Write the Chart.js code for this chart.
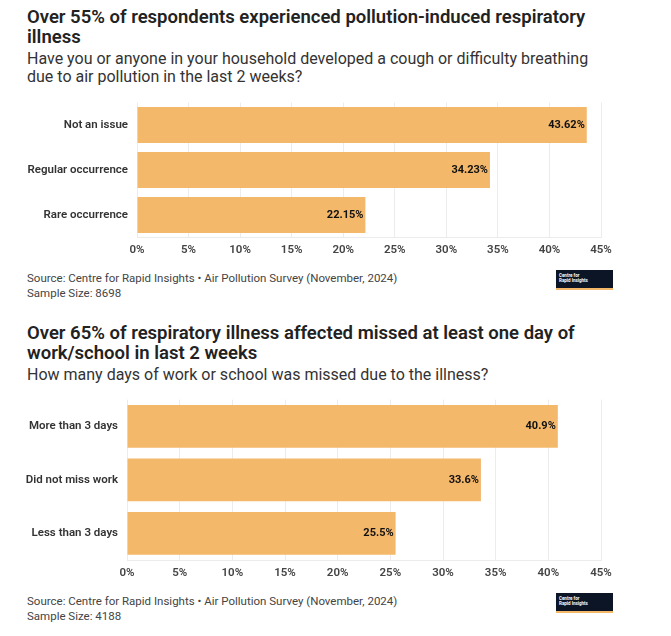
<!DOCTYPE html>
<html>
<head>
<meta charset="utf-8">
<script src="https://cdn.jsdelivr.net/npm/chart.js@4"></script>
<style>
  body { margin: 0; background: #fff; font-family: Roboto, 'Open Sans', sans-serif; }
  #page { position: relative; width: 671px; height: 636px; overflow: hidden; }
  .title { position: absolute; left: 27px; width: 585px; font-size: 18.5px; font-weight: 600; line-height: 20px; color: #222; }
  .subtitle { position: absolute; left: 27px; width: 575px; font-size: 16px; line-height: 18px; color: #333; }
  .source { position: absolute; left: 27px; font-size: 11.5px; line-height: 15px; color: #444; }
  .logo { position: absolute; left: 556px; width: 57px; height: 20px; background: #0b1526; border-bottom: 2px solid #f4b86b; color: #fff; font-size: 4.5px; line-height: 5px; font-weight: 700; padding: 3px 0 0 3px; box-sizing: border-box; }
  .wrap { position: absolute; left: 0; }
</style>
</head>
<body>
<div id="page">
  <div class="title" style="top:7px">Over 55% of respondents experienced pollution-induced respiratory illness</div>
  <div class="subtitle" style="top:50px">Have you or anyone in your household developed a cough or difficulty breathing due to air pollution in the last 2 weeks?</div>
  <div class="wrap" style="top:97px; width:640px; height:165px"><canvas id="chart1"></canvas></div>
  <div class="source" style="top:271px">Source: Centre for Rapid Insights • Air Pollution Survey (November, 2024)<br>Sample Size: 8698</div>
  <div class="logo" style="top:270px">Centre for<br>Rapid Insights</div>

  <div class="title" style="top:323px">Over 65% of respiratory illness affected missed at least one day of work/school in last 2 weeks</div>
  <div class="subtitle" style="top:366px">How many days of work or school was missed due to the illness?</div>
  <div class="wrap" style="top:395px; width:640px; height:190px"><canvas id="chart2"></canvas></div>
  <div class="source" style="top:594px">Source: Centre for Rapid Insights • Air Pollution Survey (November, 2024)<br>Sample Size: 4188</div>
  <div class="logo" style="top:593px">Centre for<br>Rapid Insights</div>
</div>

<script>
// dados
var categorias1 = ['Not an issue', 'Regular occurrence', 'Rare occurrence'];
var valores1 = [43.62, 34.23, 22.15];
var rotulos1 = ['43.62%', '34.23%', '22.15%'];

var categorias2 = ['More than 3 days', 'Did not miss work', 'Less than 3 days'];
var valores2 = [40.9, 33.6, 25.5];
var rotulos2 = ['40.9%', '33.6%', '25.5%'];

var ticksX = [0, 5, 10, 15, 20, 25, 30, 35, 40, 45];

var corBarra = '#f4b86b';
var fonte = "Roboto, 'Open Sans', sans-serif";

// rótulos no fim das barras
var pluginRotulos = {
    id: 'rotulos',
    afterDatasetsDraw: function (chart) {
        var ctx = chart.ctx;
        var textos = chart.options.plugins.rotulos.textos;
        var meta = chart.getDatasetMeta(0);
        ctx.save();
        ctx.font = '700 11px ' + fonte;
        ctx.fillStyle = '#111';
        ctx.textAlign = 'right';
        ctx.textBaseline = 'middle';
        meta.data.forEach(function (bar, i) {
            ctx.fillText(textos[i], bar.x - 2, bar.y);
        });
        ctx.restore();
    }
};

function criarGrafico(id, categorias, valores, textos, larguraY, topo, alturaX) {
    var ctx = document.getElementById(id).getContext('2d');
    return new Chart(ctx, {
        type: 'bar',
        data: {
            labels: categorias,
            datasets: [{
                data: valores,
                backgroundColor: corBarra,
                borderWidth: 0,
                barPercentage: 0.8,
                categoryPercentage: 1
            }]
        },
        options: {
            indexAxis: 'y',
            responsive: true,
            maintainAspectRatio: false,
            animation: false,
            layout: { padding: { top: topo, right: 39, left: 0, bottom: 0 } },
            plugins: {
                legend: { display: false },
                tooltip: { enabled: false },
                rotulos: { textos: textos }
            },
            scales: {
                x: {
                    min: 0,
                    max: 45,
                    afterBuildTicks: function (scale) {
                        scale.ticks = ticksX.map(function (v) { return { value: v }; });
                    },
                    afterFit: function (scale) { scale.height = alturaX; },
                    grid: { color: '#ececec', drawTicks: false },
                    border: { display: true, color: '#ececec' },
                    ticks: {
                        padding: 6,
                        color: '#444',
                        font: { family: fonte, size: 11.5, weight: '600' },
                        callback: function (v) { return v + '%'; }
                    }
                },
                y: {
                    afterFit: function (scale) {
                        scale.width = larguraY;
                        scale.paddingTop = 0;
                        scale.paddingBottom = 0;
                    },
                    grid: { display: false, drawTicks: false },
                    border: { display: false },
                    ticks: {
                        padding: 9,
                        color: '#333',
                        font: { family: fonte, size: 11.5, weight: '600' }
                    }
                }
            }
        },
        plugins: [pluginRotulos]
    });
}

document.addEventListener('DOMContentLoaded', function () {
    criarGrafico('chart1', categorias1, valores1, rotulos1, 137, 5.5, 24.5);
    criarGrafico('chart2', categorias2, valores2, rotulos2, 127, 4.7, 24.8);
});
</script>
</body>
</html>
